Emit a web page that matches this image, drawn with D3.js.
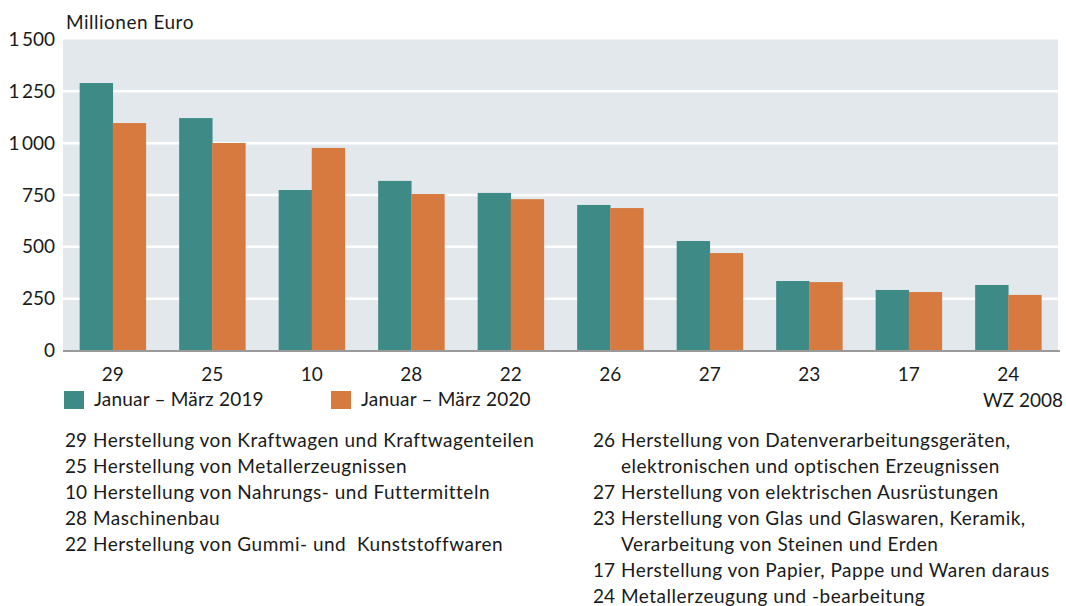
<!DOCTYPE html>
<html><head><meta charset="utf-8">
<script src="https://cdn.jsdelivr.net/npm/d3@7"></script>
<style>
html,body{margin:0;padding:0;background:#fff;}
svg text{font-family:"Source Sans Pro","Lato","Noto Sans",sans-serif;fill:#1a1a1a;}
</style></head>
<body><svg id="c" width="1066" height="606"></svg>
<script>
const categories = ["29","25","10","28","22","26","27","23","17","24"];
const seriesNames = ["Januar – März 2019","Januar – März 2020"];
const values2019 = [1290,1121,774,818,760,702,528,335,292,316];
const values2020 = [1097,1001,977,755,730,687,470,330,282,268];
const yTicks = [0,250,500,750,1000,1250,1500];
const notesLeft = [
  ["29","Herstellung von Kraftwagen und Kraftwagenteilen"],
  ["25","Herstellung von Metallerzeugnissen"],
  ["10","Herstellung von Nahrungs- und Futtermitteln"],
  ["28","Maschinenbau"],
  ["22","Herstellung von Gummi- und  Kunststoffwaren"]
];
const notesRight = [
  ["26","Herstellung von Datenverarbeitungsgeräten,"],
  ["","elektronischen und optischen Erzeugnissen"],
  ["27","Herstellung von elektrischen Ausrüstungen"],
  ["23","Herstellung von Glas und Glaswaren, Keramik,"],
  ["","Verarbeitung von Steinen und Erden"],
  ["17","Herstellung von Papier, Pappe und Waren daraus"],
  ["24","Metallerzeugung und -bearbeitung"]
];
const colors = ["#3d8a87","#d77a40"];

const svg = d3.select("#c");
const pL = 63, pR = 1058, pT = 39.5, pB = 350.5;
const y = d3.scaleLinear().domain([0,1500]).range([pB, pT]);
const x0 = d3.scaleBand().domain(categories).range([pL,pR]).paddingInner(0.335).paddingOuter(0.1675);
const x1 = d3.scaleBand().domain([0,1]).range([0, x0.bandwidth()]);
const fs = 19;

svg.append("rect").attr("x",pL).attr("y",pT).attr("width",pR-pL).attr("height",pB-pT).attr("fill","#e3e8ec");

// gridlines
svg.append("g").selectAll("line").data(yTicks.filter(d=>d>0 && d<1500)).join("line")
  .attr("x1",pL).attr("x2",pR).attr("y1",d=>y(d)).attr("y2",d=>y(d))
  .attr("stroke","#fff").attr("stroke-width",2.5);

// y labels
const fmt = d => d>=1000 ? String(d).replace(/(\d)(\d{3})$/,"$1\u2009$2") : String(d);
svg.append("g").selectAll("text").data(yTicks).join("text")
  .attr("x",55).attr("y",d=>y(d)+6.5).attr("text-anchor","end").attr("font-size",fs).text(fmt);

svg.append("text").attr("x",66).attr("y",29).attr("font-size",fs).attr("letter-spacing",0.5).text("Millionen Euro");

// bars
const data = categories.map((c,i)=>({c, v:[values2019[i], values2020[i]]}));
const g = svg.append("g").selectAll("g").data(data).join("g").attr("transform",d=>`translate(${x0(d.c)},0)`);
g.selectAll("rect").data(d=>d.v.map((v,k)=>({v,k}))).join("rect")
  .attr("x",d=>x1(d.k)).attr("width",x1.bandwidth()+0.3)
  .attr("y",d=>y(d.v)).attr("height",d=>pB-y(d.v))
  .attr("fill",d=>colors[d.k]);

// baseline
svg.append("line").attr("x1",pL).attr("x2",1060).attr("y1",pB+0.5).attr("y2",pB+0.5)
  .attr("stroke","#9a9a9a").attr("stroke-width",2);

// x labels
svg.append("g").selectAll("text").data(categories).join("text")
  .attr("x",d=>x0(d)+x0.bandwidth()/2).attr("y",381).attr("text-anchor","middle").attr("font-size",fs).text(d=>d);

svg.append("text").attr("x",1063).attr("y",407).attr("text-anchor","end").attr("font-size",fs).text("WZ 2008");

// legend
const legX = [64,331];
seriesNames.forEach((n,i)=>{
  svg.append("rect").attr("x",legX[i]).attr("y",391).attr("width",20).attr("height",18).attr("fill",colors[i]);
  svg.append("text").attr("x",legX[i]+30).attr("y",406).attr("font-size",fs).attr("letter-spacing",0.2).text(n);
});

// notes
const lh = 26;
function notes(arr, xn, xt){
  const gg = svg.append("g");
  arr.forEach((r,i)=>{
    gg.append("text").attr("x",xn).attr("y",447+i*lh).attr("font-size",fs).text(r[0]);
    gg.append("text").attr("x",xt).attr("y",447+i*lh).attr("font-size",fs).attr("letter-spacing",0.5).style("white-space","pre").text(r[1]);
  });
}
notes(notesLeft, 65, 93);
notes(notesRight, 593, 621);
</script></body></html>
